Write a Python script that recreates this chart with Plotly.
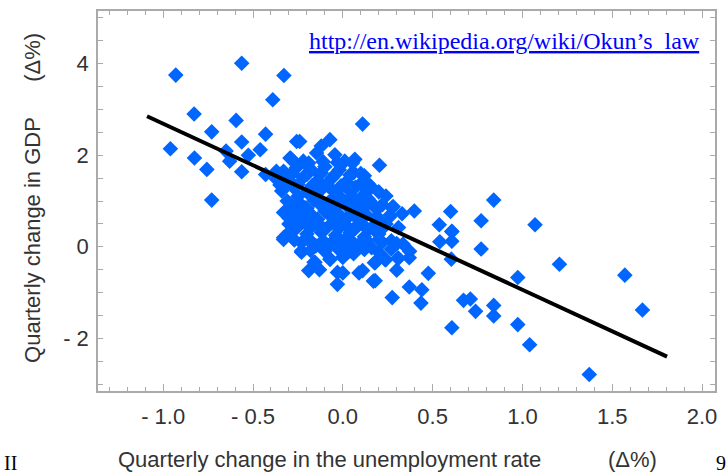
import plotly.graph_objects as go

# Scatter data: quarterly change in unemployment rate (x) vs GDP change (y)
x_outer = [-0.93, -0.563, -0.328, -0.39, -0.828, -0.594, -0.73, -0.43, -0.96, -0.563,
           -0.46, -0.65, -0.826, -0.526, -0.63, -0.757, -0.563, -0.73, -0.29, -0.257,
           -0.43, -0.37, -0.28,
           0.11, 0.204, 0.054, 0.24, 0.398, 0.60, 0.84, 0.77, 0.537, 0.607, 1.07, 0.274, 0.19,
           0.54, 0.607, 0.77, 0.604, 1.206, 1.57, 0.974, 0.476, 0.672, 0.71, 0.739, 0.84,
           0.84, 1.668, 0.607, 0.974, 1.04, 1.372,
           0.30, 0.17, 0.37, 0.44, 0.435, 0.275, 0.37, 0.235, 0.176, 0.30, 0.11, 0.372,
           0.307, 0.27, 0.335, 0.607]
y_outer = [3.75, 4.01, 3.74, 3.21, 2.90, 2.76, 2.51, 2.46, 2.14, 2.29,
           2.12, 2.09, 1.94, 2.00, 1.87, 1.69, 1.64, 1.02, 1.93, 2.30,
           1.58, 1.65, 1.37,
           2.68, 1.78, 1.83, 1.11, 0.78, 0.77, 1.02, 0.57, 0.48, 0.34, 0.48, 0.85, 0.82,
           0.11, 0.12, -0.05, -0.27, -0.38, -0.62, -0.67, -0.58, -1.17, -1.14, -1.41, -1.28,
           -1.51, -1.38, -1.77, -1.70, -2.14, -2.79,
           -0.51, -0.75, -0.88, -0.94, -1.23, -1.11, -0.24, -0.28, -0.35, 0.07, -0.52, -0.10,
           -0.25, 0.13, 0.06, 0.33]

x_core = [-0.24, -0.072, -0.044, -0.146, -0.294, 0.011, -0.22, 0.067, 0.15, -0.12,
          -0.33, -0.26, -0.18, -0.10, -0.02, 0.06, 0.12,
          -0.37, -0.30, -0.22, -0.14, -0.06, 0.02, 0.10, 0.16,
          -0.34, -0.27, -0.20, -0.12, -0.04, 0.04, 0.12, 0.20,
          -0.31, -0.24, -0.16, -0.08, 0.00, 0.08, 0.22, 0.28,
          -0.33, -0.26, -0.18, -0.10, -0.02, 0.06, 0.13, 0.33,
          -0.30, -0.22, -0.14, -0.06, 0.02, 0.10, 0.17, 0.24, 0.31,
          -0.29, -0.20, -0.12, -0.04, 0.04, 0.12, 0.20,
          -0.33, -0.23, -0.15, -0.07, 0.01, 0.09, 0.16, 0.22,
          -0.23, -0.16, -0.07, 0.00, 0.06, 0.18, 0.24, 0.31,
          -0.19, -0.13, -0.03, -0.03, 0.00, 0.09, 0.18,
          -0.285, -0.155, -0.072, 0.00, -0.23, -0.33,
          -0.25, -0.15, -0.05, 0.05, 0.14, -0.21, -0.09, 0.03, 0.11, -0.17, -0.01, 0.08,
          -0.27, -0.11, 0.07, -0.19, 0.01, 0.18, -0.35, -0.08, 0.26, 0.20, -0.13, 0.14]
y_core = [2.30, 2.34, 2.01, 2.05, 1.94, 1.87, 1.87, 1.91, 1.00, 2.20,
          1.65, 1.72, 1.70, 1.75, 1.68, 1.62, 1.55,
          1.48, 1.45, 1.52, 1.45, 1.50, 1.42, 1.38, 1.30,
          1.22, 1.28, 1.20, 1.25, 1.18, 1.22, 1.15, 1.20,
          1.00, 0.95, 1.02, 0.96, 1.03, 0.98, 0.92, 0.88,
          0.75, 0.80, 0.72, 0.78, 0.70, 0.76, 0.70, 0.72,
          0.50, 0.55, 0.48, 0.52, 0.46, 0.53, 0.45, 0.50, 0.42,
          0.35, 0.28, 0.32, 0.25, 0.30, 0.22, 0.28,
          0.20, 0.09, 0.02, 0.06, 0.00, 0.05, -0.02, 0.10,
          -0.12, -0.34, -0.27, -0.23, -0.15, -0.35, -0.28, -0.25,
          -0.52, -0.50, -0.56, -0.82, -0.57, -0.57, -0.74,
          0.35, -0.34, -0.27, -0.23, -0.09, 0.16,
          1.10, 1.12, 1.08, 1.10, 1.05, 0.85, 0.88, 0.86, 0.84, 0.62, 0.64, 0.62,
          0.62, 0.40, 0.40, 0.15, 0.15, 0.35, 1.35, 1.32, 0.65, 0.62, 1.58, 0.95]

x_fill = [-0.27, -0.19, -0.11, -0.03,
          -0.28, -0.20, -0.12, -0.04, 0.04, 0.10,
          -0.33, -0.25, -0.17, -0.09, -0.01, 0.07, 0.14,
          -0.28, -0.20, -0.12, -0.04, 0.04, 0.12, 0.18,
          -0.30, -0.22, -0.14, -0.06, 0.02, 0.10, 0.18, 0.26,
          -0.26, -0.18, -0.10, -0.02, 0.06, 0.14, 0.22,
          -0.27, -0.19, -0.11, -0.03, 0.05, 0.13, 0.20,
          -0.18, -0.10, -0.02, 0.04, 0.12, 0.20, 0.27]
y_fill = [1.85, 1.83, 1.86, 1.84,
          1.60, 1.58, 1.61, 1.59, 1.57, 1.60,
          1.35, 1.36, 1.34, 1.37, 1.33, 1.30, 1.38,
          0.88, 0.84, 0.90, 0.86, 0.83, 0.89, 0.87,
          0.63, 0.66, 0.60, 0.64, 0.61, 0.65, 0.62, 0.68,
          0.40, 0.42, 0.38, 0.41, 0.39, 0.37, 0.40,
          0.15, 0.17, 0.13, 0.16, 0.12, 0.14, 0.16,
          -0.08, -0.10, -0.07, -0.09, -0.06, -0.12, -0.05]

line_x = [-1.09, 1.805]
line_y = [2.85, -2.40]

x_ticks = [-1.0, -0.5, 0.0, 0.5, 1.0, 1.5, 2.0]
x_tick_text = ["- 1.0", "- 0.5", "0.0", "0.5", "1.0", "1.5", "2.0"]
y_ticks = [-2, 0, 2, 4]
y_tick_text = ["- 2", "0", "2", "4"]

W, H = 726, 474
L, R, T, B = 98, 10, 9, 83
pw, ph = W - L - R, H - T - B


def px(xp):
    return (xp - L) / pw


def py(yp):
    return (H - B - yp) / ph


fig = go.Figure()
fig.add_trace(go.Scatter(
    x=x_outer + x_core + x_fill, y=y_outer + y_core + y_fill, mode="markers",
    marker=dict(symbol="diamond", size=12, color="#0066ff", line=dict(width=0)),
    hoverinfo="skip", showlegend=False))
fig.add_trace(go.Scatter(
    x=line_x, y=line_y, mode="lines",
    line=dict(color="black", width=4), hoverinfo="skip", showlegend=False))

frame = "#aaaaaa"
tickfont = dict(family="Liberation Sans, Arial, sans-serif", size=22, color="#333333")
fig.update_xaxes(
    range=[-1.363, 2.072], tickvals=x_ticks, ticktext=x_tick_text,
    showgrid=False, zeroline=False, showline=True, linecolor=frame, linewidth=1.5,
    mirror="allticks", ticks="inside", ticklen=7, tickcolor=frame, tickwidth=1,
    tickfont=tickfont, ticklabelstandoff=5,
    minor=dict(dtick=0.1, tick0=0, ticks="inside", ticklen=4, tickcolor=frame, showgrid=False))
fig.update_yaxes(
    range=[-3.15, 5.15], tickvals=y_ticks, ticktext=y_tick_text,
    showgrid=False, zeroline=False, showline=True, linecolor=frame, linewidth=1.5,
    mirror="allticks", ticks="inside", ticklen=5, tickcolor=frame, tickwidth=1,
    tickfont=tickfont, ticklabelstandoff=3,
    minor=dict(dtick=0.5, tick0=0, ticks="inside", ticklen=5, tickcolor=frame, showgrid=False))

sans = dict(family="Liberation Sans, Arial, sans-serif", size=22, color="#333333")
serif = "Liberation Serif, Times New Roman, serif"
annots = [
    dict(text="Quarterly change in the unemployment rate", x=px(116), y=py(460),
         xanchor="left", yanchor="middle", font=sans),
    dict(text="(Δ%)", x=px(633), y=py(460), xanchor="center", yanchor="middle", font=sans),
    dict(text="Quarterly change in GDP", x=px(33), y=py(239), xanchor="center",
         yanchor="middle", textangle=-90, font=sans),
    dict(text="(Δ%)", x=px(33), y=py(56), xanchor="center", yanchor="middle",
         textangle=-90, font=sans),
    dict(text="<u>http://en.wikipedia.org/wiki/Okun’s_law</u>", x=px(505), y=py(39),
         xanchor="center", yanchor="middle",
         font=dict(family=serif, size=24, color="#0000ff")),
    dict(text="II", x=px(2), y=py(463), xanchor="left", yanchor="middle",
         font=dict(family=serif, size=20, color="black")),
    dict(text="9", x=px(715), y=py(463), xanchor="left", yanchor="middle",
         font=dict(family=serif, size=20, color="black")),
]
for a in annots:
    a.update(xref="paper", yref="paper", showarrow=False)
fig.update_layout(
    width=W, height=H, margin=dict(l=L, r=R, t=T, b=B, pad=0),
    paper_bgcolor="white", plot_bgcolor="white", annotations=annots)

fig.write_html("out.html", config={"displayModeBar": False},
               post_script="document.body.style.margin='0';document.body.style.overflow='hidden';")
